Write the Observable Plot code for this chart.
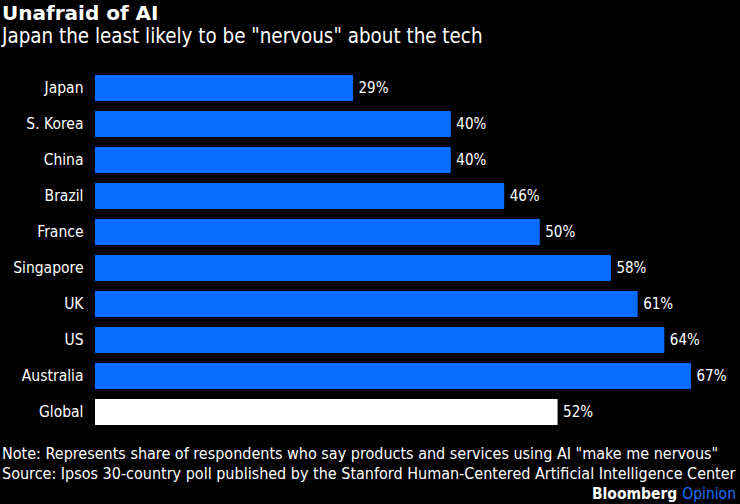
<!DOCTYPE html>
<html><head><meta charset="utf-8">
<script src="https://cdn.jsdelivr.net/npm/d3@7"></script>
<script src="https://cdn.jsdelivr.net/npm/@observablehq/plot@0.6"></script>
<style>
html,body{margin:0;padding:0;background:#000;width:740px;height:504px;overflow:hidden;}
body{font-family:"DejaVu Sans Condensed","Liberation Sans Narrow",sans-serif;color:#fff;}
#title{font-family:"DejaVu Sans","Liberation Sans",sans-serif;font-weight:bold;font-size:20px;line-height:22px;padding:2px 0 0 2px;}
#subtitle{font-family:"DejaVu Sans Condensed","Liberation Sans Narrow",sans-serif;font-size:20.4px;line-height:24px;padding-left:2px;}
#chart{height:389px;margin-top:2px;}
.foot{font-family:"DejaVu Sans Condensed","Liberation Sans Narrow",sans-serif;font-size:16px;line-height:20px;padding-left:2px;white-space:nowrap;}
#brand{text-align:right;font-family:"DejaVu Sans Condensed",sans-serif;font-weight:bold;font-size:15.5px;line-height:20px;padding-right:4px;}
#brand span{color:#1a73ff;font-weight:normal;}
</style></head>
<body>
<div id="title">Unafraid of AI</div>
<div id="subtitle">Japan the least likely to be "nervous" about the tech</div>
<div id="chart"></div>
<div class="foot" style="margin-top:5px">Note: Represents share of respondents who say products and services using AI "make me nervous"</div>
<div class="foot">Source: Ipsos 30-country poll published by the Stanford Human-Centered Artificial Intelligence Center</div>
<div id="brand">Bloomberg <span>Opinion</span></div>
<script>
const countries = ["Japan","S. Korea","China","Brazil","France","Singapore","UK","US","Australia","Global"];
const values = [29,40,40,46,50,58,61,64,67,52];
const data = countries.map((c,i)=>({country:c, value:values[i], global:c==="Global"}));
const plot = Plot.plot({
  width:740, height:389,
  marginLeft:95, marginRight:49, marginTop:10, marginBottom:0,
  style:{background:"#000", color:"#fff", fontFamily:"'DejaVu Sans Condensed','Liberation Sans Narrow',sans-serif", fontSize:"15.5px"},
  x:{domain:[0,67], axis:null},
  y:{domain:countries, padding:0.28, label:null},
  color:{domain:[false,true], range:["#0a6cff","#ffffff"]},
  marks:[
    Plot.barX(data,{x:"value", y:"country", fill:"global"}),
    Plot.text(data,{x:"value", y:"country", text:d=>d.value+"%", textAnchor:"start", dx:5, fill:"#fff", fontSize:15}),
    Plot.axisY({tickSize:0, tickPadding:12, fontSize:15.5, label:null})
  ]
});
document.getElementById("chart").appendChild(plot);
</script>
</body></html>
